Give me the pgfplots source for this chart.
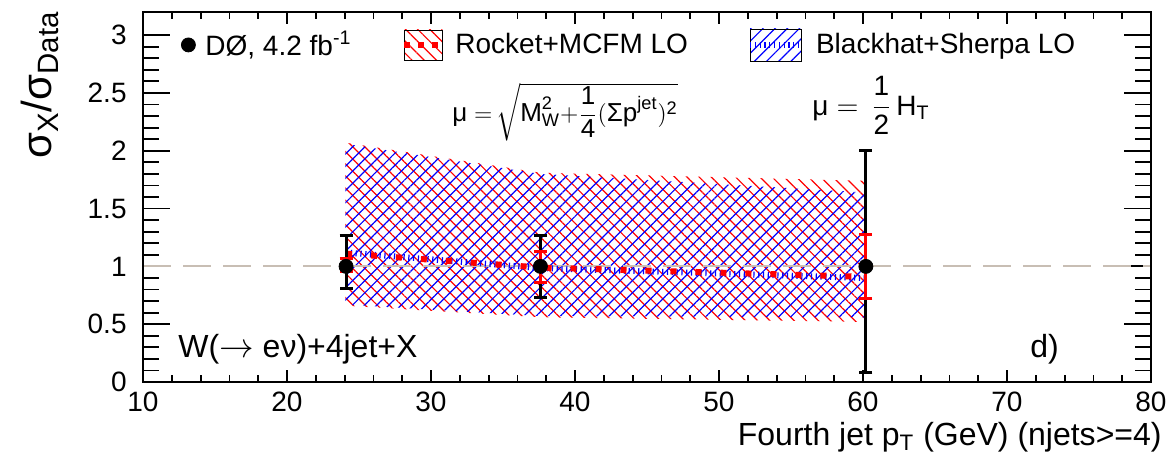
\documentclass[border=0pt]{standalone}
\usepackage{fontspec}
\setmainfont{Liberation Sans}
\usepackage{amsmath}
\usepackage{pgfplots}
\pgfplotsset{compat=1.18}
\usetikzlibrary{patterns.meta}
\definecolor{refgray}{RGB}{200,190,180}
\begin{document}
\begin{tikzpicture}
\path[use as bounding box] (0,0) rectangle (585.5pt,231.5pt);
\begin{axis}[
  at={(71.5pt,40.5pt)}, anchor=south west,
  scale only axis, width=504pt, height=185pt,
  xmin=10, xmax=80, ymin=0, ymax=3.2,
  xtick={10,20,...,80}, ytick={0,0.5,...,3},
  minor x tick num=4, minor y tick num=4,
  major tick length=13.5pt, minor tick length=8pt,
  xtick style={draw=none}, major x tick style={draw=none}, minor x tick style={draw=none},
  ytick style={line width=0.9pt, black},
  axis line style={line width=1.1pt},
  /pgf/number format/assume math mode=true,
  ticklabel style={font=\fontsize{14}{16}\selectfont},
  yticklabel style={inner sep=0pt, xshift=-8pt},
  xticklabel style={inner sep=0pt, yshift=-5pt},
  legend columns=3,
  legend style={draw=none, fill=none, at={(0.0377,0.911)}, anchor=west,
    inner sep=0pt, font=\fontsize{14}{16}\selectfont,
    cells={anchor=west}, nodes={inner sep=0pt},
    /tikz/column 1/.style={column sep=5pt},
    /tikz/column 2/.style={column sep=25pt},
    /tikz/column 3/.style={column sep=5pt},
    /tikz/column 4/.style={column sep=29.5pt},
    /tikz/column 5/.style={column sep=6pt}},
]
\addlegendimage{only marks, mark=*, mark size=3.5pt, black}
\addlegendentry{DØ, 4.2 fb\textsuperscript{-1}}
\addlegendimage{legend image code/.code={
  \path[pattern={Lines[angle=-45,distance=4.3pt,line width=0.6pt]}, pattern color=red] (0pt,-7.5pt) rectangle (19pt,7.5pt);
  \draw[red, line width=3pt, dash pattern=on 3pt off 4pt] (0pt,0pt) -- (19pt,0pt);}}
\addlegendentry{Rocket+MCFM LO}
\addlegendimage{legend image code/.code={
  \path[pattern={Lines[angle=45,distance=4.3pt,line width=0.6pt]}, pattern color=blue] (0pt,-8pt) rectangle (25.5pt,8pt);
  \draw[blue, line width=3pt, dash pattern=on 0.6pt off 1.8pt] (0pt,0pt) -- (25.5pt,0pt);}}
\addlegendentry{Blackhat+Sherpa LO}

% uncertainty bands
\addplot[forget plot, draw=none, pattern={Lines[angle=-45,distance=4.3pt,line width=0.6pt]}, pattern color=red]
  coordinates {(24.05,2.07) (37.6,1.81) (60.1,1.74) (60.1,0.52) (37.6,0.56) (24.05,0.66)} -- cycle;
\addplot[forget plot, draw=none, pattern={Lines[angle=45,distance=4.3pt,line width=0.6pt]}, pattern color=blue]
  coordinates {(24.05,2.06) (37.6,1.80) (60.1,1.64) (60.1,0.56) (37.6,0.57) (24.05,0.67)} -- cycle;

% reference line
\addplot[forget plot, refgray, line width=1pt, dash pattern=on 14pt off 6pt]
  coordinates {(10,1) (80,1)};

% central predictions
\addplot[forget plot, blue, line width=3pt, dash pattern=on 0.6pt off 1.8pt]
  coordinates {(24.1,1.12) (37.6,0.985) (60.1,0.90)};
\addplot[forget plot, red, line width=3pt, dash pattern=on 3pt off 9.5pt]
  coordinates {(24.1,1.11) (37.6,0.99) (60.1,0.91)};

% data total errors
\addplot[forget plot, only marks, mark=none,
  error bars/.cd, y dir=both, y explicit,
  error bar style={line width=1.5pt, draw=black},
  error mark options={rotate=90, mark size=3.25pt, line width=1.5pt, draw=black}]
  coordinates {(24.1,1) += (0,0.27) -= (0,0.19)
               (37.6,1) += (0,0.27) -= (0,0.27)
               (60.2,1) += (0,1.00) -= (0,0.92)};
% data partial errors (red)
\addplot[forget plot, only marks, mark=none,
  error bars/.cd, y dir=both, y explicit,
  error bar style={line width=1.5pt, draw=red},
  error mark options={rotate=90, mark size=3.25pt, line width=1.5pt, draw=red}]
  coordinates {(24.1,1) += (0,0.07) -= (0,0.04)
               (37.6,1) += (0,0.13) -= (0,0.14)
               (60.2,1) += (0,0.28) -= (0,0.28)};
% data points
\addplot[forget plot, only marks, mark=*, mark size=3.5pt, black]
  coordinates {(24.1,1) (37.6,1) (60.2,1)};
\end{axis}
\begin{axis}[
  at={(71.5pt,40.5pt)}, anchor=south west,
  scale only axis, width=504pt, height=185pt,
  xmin=10, xmax=80, ymin=0, ymax=3.2,
  xtick={10,20,...,80}, xticklabels={}, ytick=\empty,
  minor x tick num=4,
  major tick length=6pt, minor tick length=3.5pt,
  xtick style={line width=0.9pt, black},
  axis line style={line width=1.1pt},
]
\end{axis}
\node[anchor=base west, font=\fontsize{16}{18}\selectfont, inner sep=0pt] at (89pt,53pt) {W($\rightarrow$ eν)+4jet+X};
\node[anchor=base west, font=\fontsize{16}{18}\selectfont, inner sep=0pt] at (515pt,53pt) {d)};
\node[anchor=base west, font=\fontsize{13}{15}\selectfont, inner sep=0pt] at (226pt,171pt)
  {$\text{μ}\;{=}\,\sqrt{\rule[-8pt]{0pt}{23.5pt}\text{M}_{\text{W}}^{\text{2}}{+}\smash{\dfrac{\text{1}}{\text{4}}}(\text{Σp}^{\text{jet}})^{\text{2}}}$};
\node[anchor=base west, font=\fontsize{14}{16}\selectfont, inner sep=0pt] at (406pt,174pt)
  {$\text{μ} = \,\dfrac{\text{1}}{\text{2}}\,\text{H}_{\text{T}}$};
\node[anchor=base east, font=\fontsize{16}{18}\selectfont, inner sep=0pt] at (581pt,9pt)
  {Fourth jet p\textsubscript{T} (GeV) (njets>=4)};
\node[rotate=90, anchor=east, font=\fontsize{21}{25}\selectfont, inner sep=0pt] at (20pt,226pt)
  {σ\textsubscript{X}/σ\textsubscript{Data}};
\end{tikzpicture}
\end{document}
